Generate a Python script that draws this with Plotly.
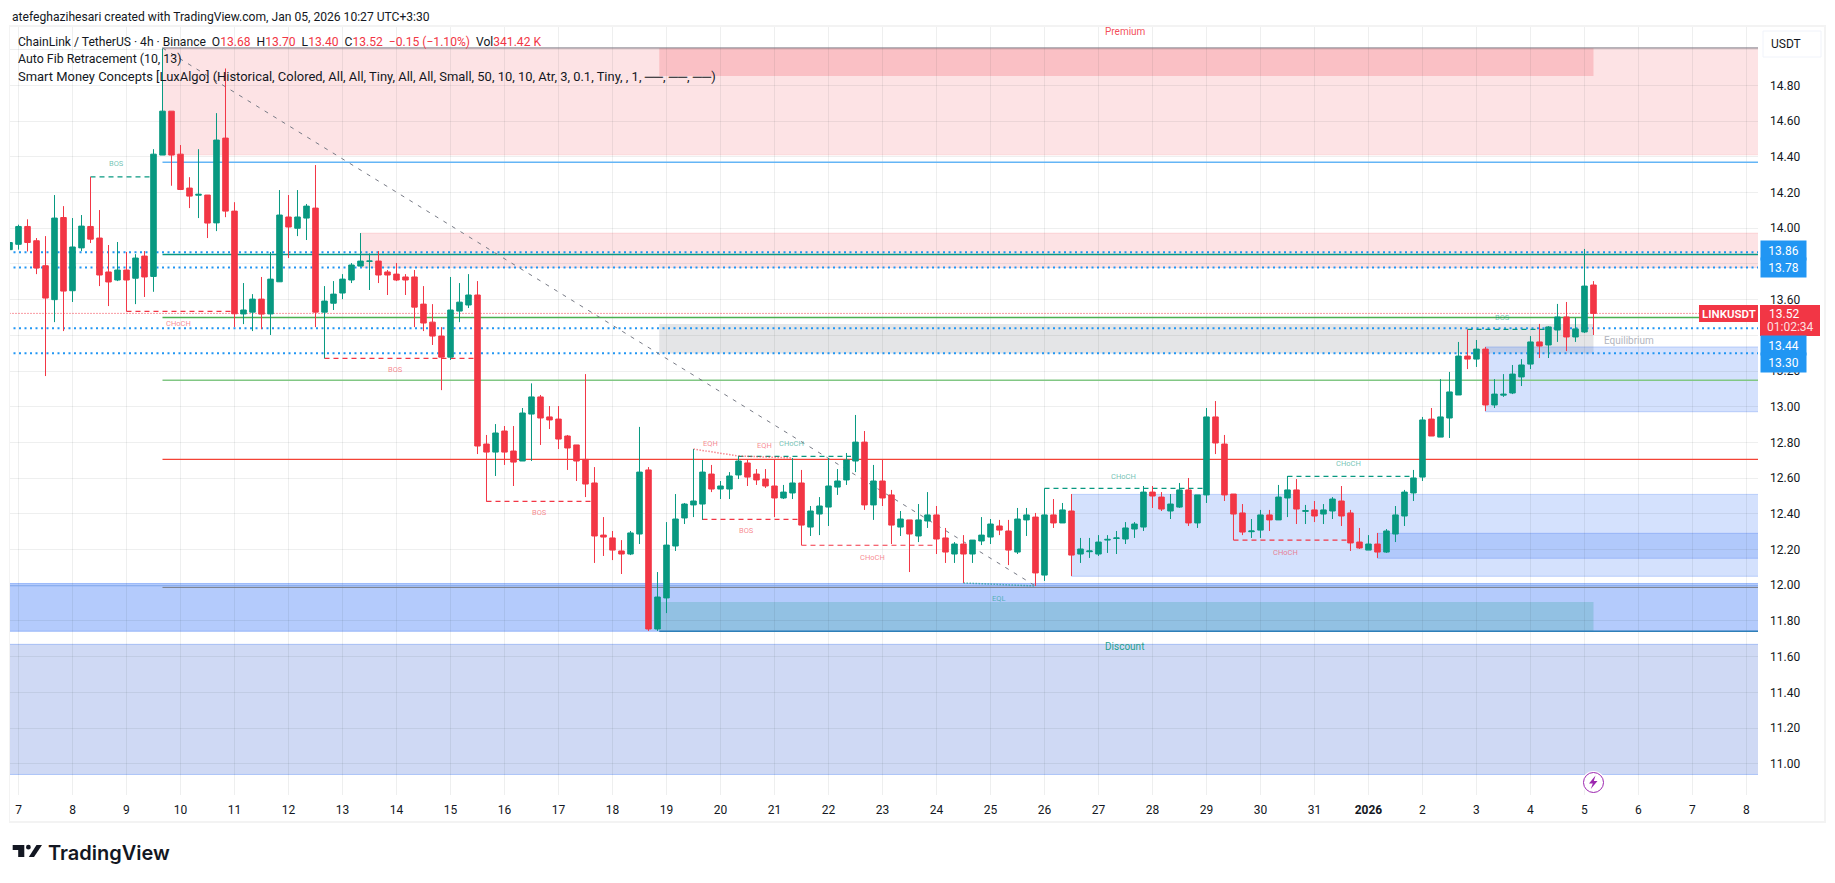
import pandas as pd
import plotly.graph_objects as go

# LINK/USDT 4h candles, oldest first
opens = [13.88,13.91,14.01,13.93,13.79,13.60,14.06,13.65,13.89,14.01,13.945,13.755,13.71,13.766,13.72,13.844,13.73,
 14.41,14.656,14.415,14.225,14.185,14.186,14.03,14.505,14.096,13.52,13.53,13.603,13.52,13.70,14.063,14.00,14.057,14.113,
 13.53,13.58,13.637,13.71,13.788,13.815,13.816,13.755,13.743,13.727,13.727,13.575,13.474,13.396,13.278,13.536,13.57,
 13.626,12.791,12.746,12.864,12.752,12.696,12.959,13.055,12.943,12.931,12.836,12.786,12.705,12.573,12.281,12.265,12.192,
 12.175,12.287,12.646,11.755,11.929,12.22,12.377,12.45,12.455,12.623,12.539,12.539,12.618,12.685,12.623,12.595,12.556,
 12.489,12.517,12.573,12.326,12.399,12.438,12.55,12.59,12.696,12.802,12.45,12.584,12.506,12.326,12.366,12.276,12.36,
 12.394,12.265,12.175,12.231,12.175,12.248,12.27,12.332,12.304,12.186,12.366,12.382,12.057,12.394,12.349,12.416,12.175,
 12.188,12.175,12.253,12.262,12.259,12.315,12.326,12.522,12.494,12.416,12.438,12.534,12.349,12.506,12.943,12.791,12.511,
 12.405,12.30,12.309,12.394,12.366,12.489,12.534,12.414,12.422,12.399,12.416,12.472,12.405,12.242,12.197,12.231,12.186,
 12.287,12.388,12.517,12.606,12.931,12.83,12.937,13.066,13.284,13.267,13.323,13.01,13.065,13.077,13.167,13.239,13.363,
 13.346,13.43,13.503,13.391,13.419,13.682]
highs = [13.93,14.02,14.05,13.945,13.956,14.186,14.124,14.057,14.074,14.288,14.102,13.906,13.923,13.867,13.855,13.872,14.443,
 15.007,14.656,14.466,14.286,14.443,14.186,14.645,14.895,14.146,13.693,13.631,13.727,13.867,14.214,14.186,14.214,14.136,14.354,
 13.676,13.704,13.743,13.805,13.973,13.859,13.872,13.766,13.805,13.743,13.766,13.676,13.575,13.446,13.727,13.693,13.743,
 13.704,12.842,12.903,12.892,12.892,12.993,13.131,13.066,13.004,13.004,12.842,12.786,13.183,12.662,12.382,12.304,12.253,
 12.304,12.887,12.662,12.074,12.354,12.511,12.461,12.763,12.702,12.674,12.584,12.634,12.724,12.702,12.651,12.651,12.707,
 12.562,12.713,12.646,12.444,12.494,12.713,12.651,12.741,12.954,12.864,12.674,12.702,12.534,12.416,12.366,12.455,12.522,
 12.444,12.321,12.242,12.281,12.253,12.382,12.371,12.366,12.366,12.433,12.433,12.405,12.543,12.483,12.461,12.511,12.265,
 12.265,12.281,12.281,12.304,12.354,12.354,12.556,12.556,12.522,12.511,12.573,12.601,12.506,12.993,13.032,12.842,12.511,
 12.455,12.371,12.422,12.422,12.562,12.612,12.595,12.45,12.472,12.455,12.494,12.556,12.422,12.321,12.281,12.293,12.315,
 12.444,12.534,12.646,12.943,12.993,13.155,13.195,13.363,13.434,13.374,13.335,13.155,13.183,13.234,13.267,13.396,13.464,
 13.452,13.576,13.587,13.497,13.884,13.704]
lows = [13.87,13.88,13.87,13.743,13.172,13.474,13.424,13.587,13.872,13.917,13.676,13.564,13.704,13.534,13.575,13.615,13.644,
 14.41,14.238,14.214,14.113,14.057,13.945,13.984,14.062,13.446,13.463,13.424,13.435,13.402,13.699,13.833,13.956,13.934,13.446,
 13.271,13.542,13.603,13.693,13.785,13.654,13.693,13.626,13.704,13.626,13.446,13.424,13.346,13.093,13.262,13.474,13.553,
 12.735,12.468,12.612,12.674,12.556,12.696,12.696,12.786,12.875,12.763,12.646,12.584,12.494,12.125,12.164,12.141,12.063,
 12.169,12.231,11.744,11.744,11.844,12.192,12.343,12.382,12.366,12.522,12.483,12.483,12.595,12.556,12.562,12.545,12.382,
 12.483,12.483,12.224,12.276,12.281,12.332,12.506,12.562,12.634,12.422,12.366,12.444,12.231,12.276,12.074,12.242,12.321,
 12.175,12.125,12.125,12.013,12.125,12.225,12.231,12.281,12.113,12.175,12.276,11.996,12.024,12.321,12.349,12.052,12.125,
 12.153,12.164,12.181,12.175,12.231,12.265,12.304,12.433,12.416,12.371,12.433,12.332,12.321,12.461,12.735,12.472,12.253,
 12.281,12.265,12.265,12.304,12.366,12.382,12.343,12.343,12.354,12.343,12.371,12.332,12.192,12.203,12.197,12.153,12.181,
 12.242,12.332,12.472,12.584,12.836,12.83,12.825,13.066,13.211,13.223,12.976,12.993,13.055,13.071,13.116,13.211,13.273,
 13.273,13.363,13.312,13.363,13.413,13.402]
closes = [13.92,14.01,13.92,13.777,13.609,14.057,13.648,13.895,14.012,13.939,13.738,13.699,13.766,13.71,13.833,13.727,14.415,
 14.656,14.41,14.217,14.18,14.19,14.029,14.494,14.096,13.521,13.542,13.603,13.519,13.715,14.074,14.007,14.063,14.124,13.53,
 13.592,13.631,13.715,13.794,13.816,13.816,13.738,13.738,13.71,13.71,13.558,13.469,13.396,13.278,13.542,13.586,13.626,
 12.78,12.746,12.853,12.746,12.69,12.965,13.055,12.937,12.926,12.819,12.769,12.696,12.567,12.276,12.27,12.197,12.175,
 12.293,12.634,11.755,11.934,12.225,12.371,12.455,12.472,12.634,12.539,12.556,12.612,12.696,12.606,12.59,12.556,12.489,
 12.522,12.573,12.337,12.416,12.444,12.556,12.584,12.702,12.802,12.45,12.584,12.489,12.337,12.371,12.287,12.366,12.394,
 12.259,12.186,12.231,12.175,12.253,12.281,12.343,12.309,12.197,12.371,12.394,12.069,12.394,12.349,12.422,12.169,12.203,
 12.192,12.242,12.257,12.265,12.321,12.343,12.522,12.5,12.427,12.455,12.534,12.349,12.506,12.943,12.797,12.506,12.399,
 12.298,12.304,12.394,12.366,12.494,12.534,12.427,12.418,12.388,12.422,12.483,12.388,12.237,12.209,12.231,12.186,12.304,
 12.394,12.522,12.601,12.926,12.836,12.943,13.083,13.284,13.267,13.323,13.01,13.071,13.07,13.183,13.234,13.363,13.34,
 13.447,13.503,13.391,13.436,13.676,13.523]

first_bar = pd.Timestamp("2025-12-06 20:00")
bar_hours = 4


def bar_time(index):
    """Time of a (possibly fractional) bar position counted from the first full day."""
    return first_bar + pd.Timedelta(hours=bar_hours * (index + 1))


times = [bar_time(i) for i in range(-1, 176)]

day_ticks = pd.date_range("2025-12-07", "2026-01-08", freq="D")
day_labels = [str(d.day) for d in day_ticks]
day_labels[day_labels.index("1", 20)] = "<b>2026</b>"

price_ticks = [11.0, 11.2, 11.4, 11.6, 11.8, 12.0, 12.2, 12.4, 12.6, 12.8, 13.0, 13.2, 13.4, 13.6, 13.8, 14.0,
               14.2, 14.4, 14.6, 14.8, 15.0]
# levels whose label sits under a scale tag keep their gridline but no text
covered_ticks = [13.4, 13.8, 15.0]
price_labels = ["" if p in covered_ticks else f"{p:.2f}" for p in price_ticks]

GREEN = "#089981"
RED = "#F23645"
BLUE = "#2196F3"
FONT = "Roboto"
LEFT, RIGHT = -3, 200  # wider than the visible window, clipped by the plot area

# price zones: first bar, last bar, top, bottom, fill, edge
zones = [
    (16, RIGHT, 15.01, 14.41, "rgba(242,54,69,0.14)", "rgba(242,54,69,0.08)"),
    (38, RIGHT, 13.973, 13.78, "rgba(242,54,69,0.14)", "rgba(242,54,69,0.12)"),
    (71.2, 175, 15.01, 14.853, "rgba(242,54,69,0.20)", "rgba(242,54,69,0)"),
    (71.2, 175, 13.464, 13.299, "rgba(120,123,134,0.20)", "rgba(120,123,134,0)"),
    (163, RIGHT, 13.335, 12.972, "rgba(41,105,245,0.20)", "rgba(41,105,245,0.25)"),
    (117, RIGHT, 12.509, 12.05, "rgba(41,105,245,0.20)", "rgba(41,105,245,0.25)"),
    (151, RIGHT, 12.291, 12.151, "rgba(41,105,245,0.20)", "rgba(41,105,245,0.25)"),
    (LEFT, RIGHT, 12.01, 11.742, "rgba(41,105,245,0.35)", "rgba(41,105,245,0.35)"),
    (LEFT, RIGHT, 11.669, 10.94, "rgba(63,103,211,0.25)", "rgba(41,105,245,0.3)"),
    (71.2, 175, 11.906, 11.742, "rgba(8,153,129,0.20)", "rgba(8,153,129,0)"),
]

# horizontal levels: first bar, price, colour, width, dash
levels = [
    (16, 15.01, "#787B86", 1, "solid"),
    (16, 14.37, "#64B5F6", 1.5, "solid"),
    (16, 13.853, GREEN, 1.5, "solid"),
    (16, 13.50, "#4CAF50", 1.5, "solid"),
    (16, 13.148, "#81C784", 1.5, "solid"),
    (16, 12.705, "#F44336", 1.2, "solid"),
    (16, 11.988, "#787B86", 1, "solid"),
    (71.2, 11.742, "#2E7FB8", 1.5, "solid"),
    (LEFT, 11.997, "#82A9EE", 1, "solid"),
    (LEFT, 13.865, BLUE, 2, "2px,3.5px"),
    (LEFT, 13.78, BLUE, 2, "2px,3.5px"),
    (LEFT, 13.44, BLUE, 2, "2px,3.5px"),
    (LEFT, 13.30, BLUE, 2, "2px,3.5px"),
    (LEFT, 13.523, RED, 1, "1px,2px"),
]

# market structure breaks: first bar, last bar, price, colour
breaks = [
    (8, 15, 14.288, GREEN),
    (12, 24, 13.534, RED),
    (34, 51, 13.271, RED),
    (52, 64, 12.47, RED),
    (76, 87, 12.369, RED),
    (87, 102, 12.224, RED),
    (80, 92.5, 12.722, GREEN),
    (114, 132, 12.543, GREEN),
    (135, 148, 12.253, RED),
    (141, 155, 12.61, GREEN),
    (161, 170, 13.434, GREEN),
]

# equal highs and lows: first bar, price, last bar, price, colour
equal_levels = [
    (75, 12.763, 80, 12.724, "rgba(242,54,69,0.6)"),
    (80, 12.724, 86, 12.713, "rgba(242,54,69,0.6)"),
    (105, 12.013, 113, 11.996, "rgba(8,153,129,0.6)"),
]

# structure captions: bar, price, text, colour
captions = [
    (10.9, 14.363, "BOS", GREEN), (17.8, 13.467, "CHoCH", RED), (41.9, 13.209, "BOS", RED),
    (57.9, 12.408, "BOS", RED), (80.9, 12.308, "BOS", RED), (94.9, 12.156, "CHoCH", RED),
    (76.9, 12.795, "EQH", RED), (82.9, 12.784, "EQH", RED), (85.9, 12.795, "CHoCH", GREEN),
    (108.9, 11.925, "EQL", GREEN), (122.8, 12.61, "CHoCH", GREEN), (140.8, 12.184, "CHoCH", RED),
    (147.8, 12.683, "CHoCH", GREEN), (164.9, 13.5, "BOS", GREEN),
]

# price scale tags: price, shift from the true level, text
blue_tags = [(13.86, 3, "13.86"), (13.78, 0, "13.78"), (13.44, -17, "13.44"), (13.30, -9, "13.30")]

fig = go.Figure(go.Candlestick(
    x=times, open=opens, high=highs, low=lows, close=closes,
    increasing=dict(line=dict(color=GREEN, width=1), fillcolor=GREEN),
    decreasing=dict(line=dict(color=RED, width=1), fillcolor=RED),
    hoverinfo="skip", showlegend=False,
))

shapes = []
for x0, x1, top, bottom, fill, edge in zones:
    shapes.append(dict(type="rect", layer="below", x0=bar_time(x0), x1=bar_time(x1), y0=bottom, y1=top,
                       fillcolor=fill, line=dict(color=edge, width=1)))
for x0, price, color, width, dash in levels:
    shapes.append(dict(type="line", layer="between", x0=bar_time(x0), x1=bar_time(RIGHT), y0=price, y1=price,
                       line=dict(color=color, width=width, dash=dash)))
for x0, x1, price, color in breaks:
    shapes.append(dict(type="line", layer="between", x0=bar_time(x0), x1=bar_time(x1), y0=price, y1=price,
                       line=dict(color=color, width=1.2, dash="5px,4px")))
for x0, p0, x1, p1, color in equal_levels:
    shapes.append(dict(type="line", layer="between", x0=bar_time(x0), x1=bar_time(x1), y0=p0, y1=p1,
                       line=dict(color=color, width=1.5, dash="1.5px,1.5px")))
# retracement diagonal
shapes.append(dict(type="line", layer="between", x0=bar_time(16), x1=bar_time(113), y0=15.01, y1=11.996,
                   line=dict(color="#787B86", width=1, dash="4px,6px")))

W, H = 1835, 883
M_L, M_R, M_T, M_B = 10, 77, 26, 88


def px(x):
    return (x - M_L) / (W - M_L - M_R)


def py(y):
    return 1 - (y - M_T) / (H - M_T - M_B)


def page_rect(x0, y0, x1, y1, fill, line=None, kind="rect", layer="above"):
    shapes.append(dict(type=kind, xref="paper", yref="paper", x0=px(x0), x1=px(x1), y0=py(y0), y1=py(y1),
                       fillcolor=fill, layer=layer, line=dict(color=line or fill, width=1 if line else 0)))


def page_poly(points, fill):
    path = "M" + " L".join(f"{px(x):.5f},{py(y):.5f}" for x, y in points) + " Z"
    shapes.append(dict(type="path", xref="paper", yref="paper", path=path, fillcolor=fill, line=dict(width=0)))


# outer chart frame
for x0, y0, x1, y1 in [(9, 25, 1825, 27), (9, 821, 1825, 823), (9, 25, 10, 823), (1824, 25, 1826, 823)]:
    page_rect(x0, y0, x1, y1, "#F3F3F3")

# session marker
page_rect(1582, 771, 1605, 794, "#FFFFFF", kind="circle")
page_rect(1583.5, 772.5, 1603.5, 792.5, "#FFFFFF", line="#9C27B0", kind="circle")
page_poly([(1595.5, 775.5), (1589, 783.5), (1592.8, 783.5), (1590.8, 789), (1597.5, 781), (1593.8, 781)], "#9C27B0")

# logo mark
page_poly([(12.7, 845), (24.3, 845), (24.3, 857), (18.2, 857), (18.2, 850), (12.7, 850)], "#131722")
page_rect(26, 844.8, 30.8, 849.6, "#131722", kind="circle")
page_poly([(36.5, 845), (42, 845), (34, 857), (28.8, 857)], "#131722")

annotations = []
for idx, price, text, color in captions:
    rgba = "rgba(242,54,69,0.6)" if color == RED else "rgba(8,153,129,0.6)"
    annotations.append(dict(x=bar_time(idx), y=price, xref="x", yref="y", text=text, showarrow=False,
                            font=dict(family=FONT, size=7.5, color=rgba)))
annotations += [
    dict(x=bar_time(123), y=15.10, xref="x", yref="y", text="Premium", showarrow=False,
         font=dict(family=FONT, size=10, color="rgba(242,54,69,0.9)")),
    dict(x=bar_time(122.9), y=11.655, xref="x", yref="y", text="Discount", showarrow=False,
         font=dict(family=FONT, size=10, color="rgba(8,153,129,0.9)")),
    dict(x=bar_time(179), y=13.373, xref="x", yref="y", text="Equilibrium", showarrow=False,
         font=dict(family=FONT, size=10, color="#B2B5BE")),
]


def page_text(x, y, text, size=13, color="#131722", anchor="left", **font):
    annotations.append(dict(x=px(x), y=py(y), xref="paper", yref="paper", text=text, showarrow=False,
                            xanchor=anchor, yanchor="middle", align=anchor,
                            font=dict(family=font.get("family", FONT), size=size, color=color,
                                      weight=font.get("weight", 400))))


def red(text):
    return f'<span style="color:{RED}">{text}</span>'


page_text(10, 17, "atefeghazihesari created with TradingView.com, Jan 05, 2026 10:27 UTC+3:30", size=12.1)
page_text(16, 41.5, "ChainLink / TetherUS · 4h · Binance  O" + red("13.68") + "  H" + red("13.70") + "  L" + red("13.40")
          + "  C" + red("13.52") + "  " + red("−0.15 (−1.10%)") + "  Vol" + red("341.42 K"), size=12.1)
page_text(16, 59, "Auto Fib Retracement (10, 13)", size=12.35)
page_text(16, 76, "Smart Money Concepts [LuxAlgo] (Historical, Colored, All, All, Tiny, All, All, Small, 50, 10, 10, "
          "Atr, 3, 0.1, Tiny, , 1, ──, ──, ──)", size=12.95)
page_text(46, 853, "TradingView", size=20, family="Inter", weight=600)

# USDT currency button at the top of the price scale
page_rect(1763, 31, 1821, 57, "#FFFFFF", line="#F0F3FA")
page_text(1786, 44, "USDT", size=12, anchor="center")

# last price and indicator tags on the price scale
page_rect(1760, 305, 1820, 336, RED)
page_rect(1699, 305, 1758, 322, RED)
page_text(1784, 313.5, "13.52", size=12, color="#FFFFFF", anchor="center")
page_text(1790, 327.5, "01:02:34", size=12, color="rgba(255,255,255,0.85)", anchor="center")
page_text(1728.5, 313.5, "LINKUSDT", size=11.5, color="#FFFFFF", anchor="center", weight=600)
for price, shift, text in blue_tags:
    annotations.append(dict(x=px(1760), y=price, xref="paper", yref="y", xanchor="left", yanchor="middle",
                            yshift=shift, text=text, showarrow=False, width=43, height=17, align="center",
                            bgcolor=BLUE, font=dict(family=FONT, size=12, color="#FFFFFF")))

fig.update_layout(
    width=W, height=H, autosize=False,
    margin=dict(l=M_L, r=M_R, t=M_T, b=M_B, pad=0),
    paper_bgcolor="#FFFFFF", plot_bgcolor="#FFFFFF",
    boxgap=0.12,
    shapes=shapes, annotations=annotations,
    xaxis=dict(
        type="date", range=[bar_time(-0.944), bar_time(193.28)], rangeslider=dict(visible=False),
        tickmode="array", tickvals=list(day_ticks), ticktext=day_labels,
        ticks="", ticklabelstandoff=6, tickangle=0,
        tickfont=dict(family=FONT, size=12, color="#131722"),
        showgrid=True, gridcolor="rgba(42,46,57,0.08)", gridwidth=1, zeroline=False, showline=False,
    ),
    yaxis=dict(
        side="right", range=[10.825, 15.133], tickmode="array", tickvals=price_ticks, ticktext=price_labels,
        ticks="", ticklabelstandoff=11,
        tickfont=dict(family=FONT, size=12, color="#131722"),
        showgrid=True, gridcolor="rgba(42,46,57,0.08)", gridwidth=1, zeroline=False, showline=False,
    ),
)

fig.write_html("out.html", config=dict(displayModeBar=False))
